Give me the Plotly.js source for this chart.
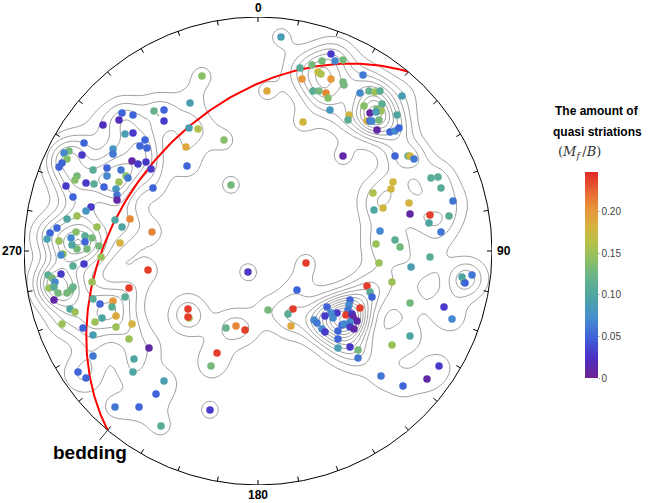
<!DOCTYPE html>
<html><head><meta charset="utf-8">
<script src="https://cdn.plot.ly/plotly-3.0.1.min.js"></script>
<style>html,body{margin:0;padding:0;background:#fff}</style>
</head><body><div id="chart" style="width:648px;height:503px"></div>
<script>
// net coordinates: east / north offsets in a net of radius 234
const east = [-136,-125,-104,-94,-94,-155,-139,-133,-125,-113,
-118,-111,-174,-145,-145,-189,-194,-191,-176,-196,
-199,-126,-120,-112,-107,-165,-151,-137,-181,-183,
-172,-164,-151,-132,-130,-139,-192,-154,-142,-141,
-141,-105,-185,-167,-172,-181,-191,-128,-106,-138,
-143,-136,-161,-201,-208,-211,-199,-187,-182,-173,
-166,-173,-159,-181,-171,-186,-195,-197,-174,-185,
-157,-110,-197,-210,-206,-203,-166,-209,-204,-200,
-191,-187,-185,-204,-129,-165,-188,-183,-133,-145,
-158,-146,-142,-156,-163,-196,-142,-126,-175,-165,
-129,-109,-165,-124,-125,-180,-172,-94,-102,-143,
-119,-97,-48,-10,-70,-69,-70,-32,-22,-13,
-41,-47,10,23,-56,9,-68,-69,-60,-34,
-72,-71,-27,85,45,73,42,54,64,77,
85,60,63,44,73,85,86,55,61,68,
70,105,102,111,117,122,144,72,106,124,
119,123,112,118,91,90,109,112,114,121,
139,119,132,137,141,137,150,152,156,173,
180,183,135,133,115,151,195,125,116,152,
172,191,171,183,122,118,137,142,121,172,
153,134,204,206,207,214,152,152,134,186,
194,181,169,145,123,48,39,35,30,33,
109,112,114,92,91,69,90,79,73,67,
75,88,102,94,95,99,92,56,59,84,
86,64,67,80,92,96,80,80,92,100,100];
const north = [138,136,140,141,130,126,131,117,118,111,
105,103,108,102,97,100,98,92,96,88,
84,90,87,89,82,81,83,81,75,71,
68,67,75,75,73,69,65,64,62,56,
51,63,54,44,40,35,32,32,19,8,
31,24,24,23,18,12,10,13,19,15,
13,9,5,2,2,6,-3,-4,-13,-15,
-6,-19,-23,-24,-27,-31,-31,-37,-36,-42,
-42,-39,-36,-49,-37,-48,-58,-61,-46,-50,
-53,-56,-65,-67,-71,-73,-76,-73,-77,-84,
-88,-97,-105,-108,-121,-121,-127,-130,-143,-156,
-156,-175,-159,-21,-58,-67,-66,-77,-75,-79,
-102,-115,-59,214,175,160,148,123,122,111,
104,85,66,95,129,197,183,186,190,190,
191,179,177,172,172,169,166,160,160,158,
153,176,158,160,159,160,155,141,145,147,
142,140,138,139,136,131,130,130,130,131,
136,121,119,120,123,95,95,95,92,73,
74,63,69,62,58,48,50,43,41,37,
36,35,28,19,20,7,11,4,-12,-6,
-16,-31,-26,-31,-32,-24,-52,-85,-94,-56,
-68,-115,-128,-135,-125,-12,-39,-58,-63,-75,
-35,-41,-46,-49,-54,-56,-59,-62,-62,-65,
-67,-64,-57,-63,-66,-70,-71,-69,-72,-74,
-73,-78,-81,-80,-76,-78,-88,-97,-96,-99,-107];
const striation = [.05,.05,.12,.05,.03,.02,.02,.09,.03,.05,
.05,.05,.05,.08,.06,.13,.07,.14,.03,.05,
.05,.01,.03,.03,.03,.11,.05,.06,.13,.14,
.03,.11,.07,.14,.06,.15,.03,.05,.08,.06,
.01,.05,.05,.03,.08,.15,.10,.21,.21,.18,
.10,.10,.15,.05,.05,.09,.15,.07,.14,.11,
.13,.05,.13,.13,.13,.10,.15,.07,.03,.11,
.15,.24,.03,.11,.13,.07,.15,.15,.11,.13,
.13,.13,.12,.01,.24,.11,.10,.15,.11,.20,
.05,.11,.19,.10,.15,.15,.15,.18,.05,.09,
.15,.01,.06,.10,.10,.05,.05,.09,.05,.06,
.05,.11,.03,.03,.24,.15,.24,.12,.21,.24,
.24,.13,.13,.09,.14,.19,.09,.09,.16,.14,
.19,.05,.13,.01,.18,.03,.11,.13,.13,.07,
.13,.17,.16,.20,.20,.13,.13,.11,.13,.21,
.14,.06,.07,.12,.15,.11,.09,.08,.14,.11,
.13,.15,.01,.09,.18,.11,.18,.05,.07,.13,
.10,.01,.05,.07,.05,.05,.12,.18,.06,.11,
.11,.11,.18,.18,.16,.18,.06,.18,.10,.01,
.24,.11,.10,.06,.07,.15,.11,.13,.15,.11,
.09,.15,.10,.12,.05,.06,.13,.10,.15,.03,
.07,.03,.01,.05,.06,.24,.05,.24,.11,.19,
.24,.11,.05,.05,.07,.05,.06,.03,.07,.03,
.07,.24,.24,.03,.01,.01,.07,.07,.06,.05,
.07,.07,.03,.05,.03,.01,.05,.09,.03,.13,.06];
const bedStrike = 220, bedDip = 41;
const azimuthLabels = ['0','90','180','270'];
const cbTickVals = [0,0.05,0.10,0.15,0.20];
const cbTickText = ['0','0.05','0.10','0.15','0.20'];
const cMax = 0.248;

const R = 234;
const D = Math.PI/180;

// great circle, equal-area lower hemisphere
function greatCircle(strike, dip){
  const xs=[], ys=[];
  const s=strike*D, d=dip*D, dd=s+Math.PI/2;
  const sv=[Math.cos(s),Math.sin(s),0];
  const dv=[Math.cos(dd)*Math.cos(d),Math.sin(dd)*Math.cos(d),Math.sin(d)];
  for(let k=0;k<=180;k++){
    const r=k*D;
    const n=Math.cos(r)*sv[0]+Math.sin(r)*dv[0];
    const e=Math.cos(r)*sv[1]+Math.sin(r)*dv[1];
    const dn=Math.cos(r)*sv[2]+Math.sin(r)*dv[2];
    const pl=Math.asin(Math.max(-1,Math.min(1,dn)));
    const tr=Math.atan2(e,n);
    const rho=Math.SQRT2*Math.sin((Math.PI/2-pl)/2)*R;
    xs.push(rho*Math.sin(tr)); ys.push(rho*Math.cos(tr));
  }
  return {xs,ys};
}
const gc = greatCircle(bedStrike, bedDip);

// density grid (gaussian kernel) from the points
const gx=[], gy=[];
for(let i=0;i<=120;i++){gx.push(-240+4*i); gy.push(-240+4*i);}
const sig=12.5, z=[];
for(let j=0;j<gy.length;j++){
  const row=[];
  for(let i=0;i<gx.length;i++){
    let s=0;
    for(let p=0;p<east.length;p++){
      const dx=gx[i]-east[p], dy=gy[j]-north[p];
      const q=(dx*dx+dy*dy)/(2*sig*sig);
      if(q<12) s+=Math.exp(-q);
    }
    row.push(s);
  }
  z.push(row);
}

// ticks on primitive circle
const tx=[], ty=[];
for(let a=0;a<360;a+=10){
  tx.push(R*Math.sin(a*D),(R-5)*Math.sin(a*D),null);
  ty.push(R*Math.cos(a*D),(R-5)*Math.cos(a*D),null);
}

// white mask outside the net
let mask='M-260,-260 L260,-260 L260,260 L-260,260 Z M'+R+',0';
for(let a=-2;a>=-360;a-=2){ mask+=' L'+(R*Math.cos(a*D)).toFixed(2)+','+(R*Math.sin(a*D)).toFixed(2); }
mask+=' Z';

const cscale=[[0,'#6f2390'],[0.1,'#4b2fc4'],[0.2,'#3f63d8'],[0.3,'#4690cc'],[0.4,'#4ea6a2'],
 [0.5,'#6cb488'],[0.58,'#8ec060'],[0.66,'#b8c048'],[0.74,'#d8b23e'],[0.82,'#e8943a'],[0.9,'#e86a34'],[1,'#e02828']];

const traces=[
 {type:'contour', x:gx, y:gy, z:z, autocontour:false, showscale:false, hoverinfo:'skip',
  contours:{start:0.8,end:60,size:1.05,coloring:'none'}, line:{color:'#969696',width:0.9,smoothing:1.2}},
 {type:'scatter', mode:'lines', x:tx, y:ty, line:{color:'#000',width:1}, hoverinfo:'skip', showlegend:false},
 {type:'scatter', mode:'lines', x:gc.xs, y:gc.ys, line:{color:'#ff0000',width:2}, hoverinfo:'skip', showlegend:false},
 {type:'scatter', mode:'markers', x:east, y:north, showlegend:false,
  marker:{size:7.5, color:striation, cmin:0, cmax:cMax, colorscale:cscale, line:{width:0},
   showscale:true,
   colorbar:{x:(585-24)/468, xanchor:'left', y:(485-172)/468, yanchor:'top', len:206, lenmode:'pixels',
     thickness:13, thicknessmode:'pixels', xpad:0, ypad:0, outlinewidth:0,
     tickvals:cbTickVals, ticktext:cbTickText, ticks:'outside', ticklen:2, tickcolor:'#bbb',
     tickfont:{size:10,color:'#444',family:'Liberation Sans, Arial'}}}}
];

const annotations=[
 {text:'<b>'+azimuthLabels[0]+'</b>', xref:'x', yref:'paper', x:0, y:(485-8)/468, xanchor:'center', yanchor:'middle', showarrow:false, font:{size:12,color:'#000'}},
 {text:'<b>'+azimuthLabels[1]+'</b>', xref:'paper', yref:'y', x:(495-24)/468, y:0, xanchor:'left', yanchor:'middle', showarrow:false, font:{size:12,color:'#000'}},
 {text:'<b>'+azimuthLabels[2]+'</b>', xref:'x', yref:'paper', x:0, y:(485-495)/468, xanchor:'center', yanchor:'middle', showarrow:false, font:{size:12,color:'#000'}},
 {text:'<b>'+azimuthLabels[3]+'</b>', xref:'paper', yref:'y', x:(24-24)/468, y:0, xanchor:'right', yanchor:'middle', showarrow:false, font:{size:12,color:'#000'}},
 {text:'<b>bedding</b>', xref:'x', yref:'y', x:gc.xs[0], y:gc.ys[0], ax:-18, ay:22, showarrow:true, arrowhead:0, arrowwidth:0.8, arrowcolor:'#000', standoff:0, font:{size:19,color:'#000'}},
 {text:'<b>The amount of</b>', xref:'paper', yref:'paper', x:(597-24)/468, y:(485-111)/468, xanchor:'center', yanchor:'middle', showarrow:false, font:{size:12,color:'#000'}},
 {text:'<b>quasi striations</b>', xref:'paper', yref:'paper', x:(597-24)/468, y:(485-132)/468, xanchor:'center', yanchor:'middle', showarrow:false, font:{size:12,color:'#000'}},
 {text:'(<i>M</i><sub><i>f</i></sub>\u2009/<i>B</i>)', xref:'paper', yref:'paper', x:(579-24)/468, y:(485-153)/468, xanchor:'center', yanchor:'middle', showarrow:false, font:{size:13,color:'#333',family:'DejaVu Serif, serif'}}
];

const layout={
 width:648, height:503, margin:{l:24,r:156,t:17,b:18}, paper_bgcolor:'#fff', plot_bgcolor:'#fff',
 font:{family:'Liberation Sans, Arial, sans-serif', color:'#000'},
 xaxis:{range:[-R,R], visible:false, showgrid:false, zeroline:false, fixedrange:true},
 yaxis:{range:[-R,R], visible:false, showgrid:false, zeroline:false, fixedrange:true},
 showlegend:false, hovermode:false,
 shapes:[
  {type:'path', xref:'x', yref:'y', path:mask, fillcolor:'#fff', line:{width:0}, layer:'above'},
  {type:'circle', xref:'x', yref:'y', x0:-R, y0:-R, x1:R, y1:R, line:{color:'#000',width:1}, layer:'above'}
 ],
 annotations:annotations
};
Plotly.newPlot('chart', traces, layout, {displayModeBar:false, staticPlot:true});
</script></body></html>
